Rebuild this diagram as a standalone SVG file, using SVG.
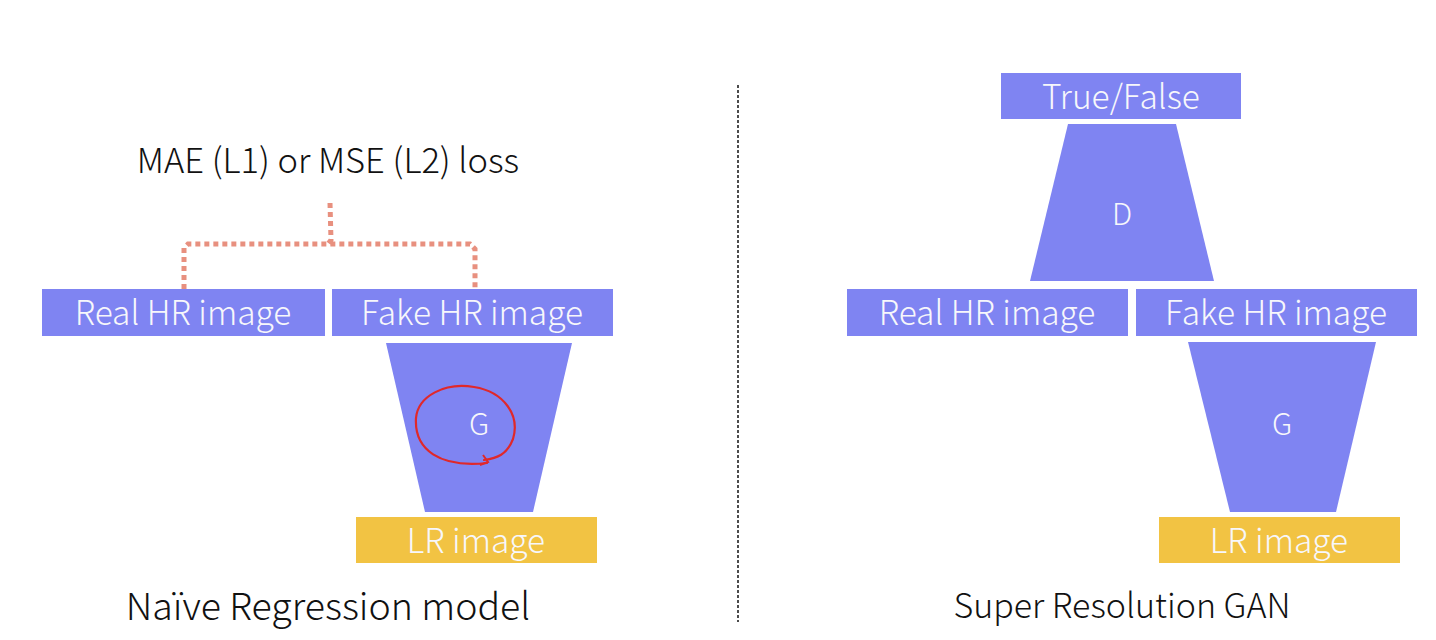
<svg xmlns="http://www.w3.org/2000/svg" width="1436" height="640" viewBox="0 0 1436 640">
<style>
.box{fill:#7f84f2}
.lr{fill:#f2c343}
.lbl{font-family:"Noto Sans CJK KR","Noto Sans",sans-serif;font-weight:300;fill:#f7f7fb;text-anchor:middle}
.cap{font-family:"Noto Sans CJK KR","Noto Sans",sans-serif;font-weight:300;fill:#111;text-anchor:middle}
</style>
<rect width="1436" height="640" fill="#fff"/>
<g id="connectors">
<path d="M330 203 L331 240 L328 244 M184 289 L184 248 L188 244 L470 244 L475 249 L475 289" fill="none" stroke="#e8907f" stroke-width="5" stroke-dasharray="5 4"/>
<line x1="738" y1="85" x2="738" y2="622" stroke="#111" stroke-width="1.5" stroke-dasharray="3 2"/>
</g>
<g id="loss-label"><text class="cap" x="328" y="173" font-size="34.5">MAE (L1) or MSE (L2) loss</text></g>
<g id="real-hr-left"><rect class="box" x="42" y="289" width="283" height="47"/><text class="lbl" x="183" y="325" font-size="33.5">Real HR image</text></g>
<g id="fake-hr-left"><rect class="box" x="332" y="289" width="281" height="47"/><text class="lbl" x="472" y="325" font-size="33.5">Fake HR image</text></g>
<g id="g-left"><polygon class="box" points="386,343 572,343 533,512 425,512"/><text class="lbl" x="479" y="435" font-size="30">G</text>
<path d="M487 463 C440 468 414 450 416 418 C418 396 445 382 474 387 C505 392 520 416 513 439 C507 455 497 458 484 460" fill="none" stroke="#e0282a" stroke-width="2.2" stroke-linecap="round"/>
<path d="M483 455 L488 462 L480 465" fill="none" stroke="#e0282a" stroke-width="2"/></g>
<g id="lr-left"><rect class="lr" x="356" y="517" width="241" height="46"/><text class="lbl" x="476" y="553" font-size="33.5">LR image</text></g>
<g id="caption-left"><text class="cap" x="328" y="620" font-size="37.5">Naïve Regression model</text></g>
<g id="true-false"><rect class="box" x="1001" y="73" width="240" height="46"/><text class="lbl" x="1121" y="109" font-size="33.5">True/False</text></g>
<g id="d"><polygon class="box" points="1068,124 1176,124 1214,281 1030,281"/><text class="lbl" x="1122" y="225" font-size="30">D</text></g>
<g id="real-hr-right"><rect class="box" x="847" y="289" width="281" height="47"/><text class="lbl" x="987" y="325" font-size="33.5">Real HR image</text></g>
<g id="fake-hr-right"><rect class="box" x="1136" y="289" width="281" height="47"/><text class="lbl" x="1276" y="325" font-size="33.5">Fake HR image</text></g>
<g id="g-right"><polygon class="box" points="1188,342 1376,342 1336,512 1230,512"/><text class="lbl" x="1282" y="435" font-size="30">G</text></g>
<g id="lr-right"><rect class="lr" x="1159" y="517" width="241" height="46"/><text class="lbl" x="1279" y="553" font-size="33.5">LR image</text></g>
<g id="caption-right"><text class="cap" x="1122" y="618" font-size="34">Super Resolution GAN</text></g>
</svg>
